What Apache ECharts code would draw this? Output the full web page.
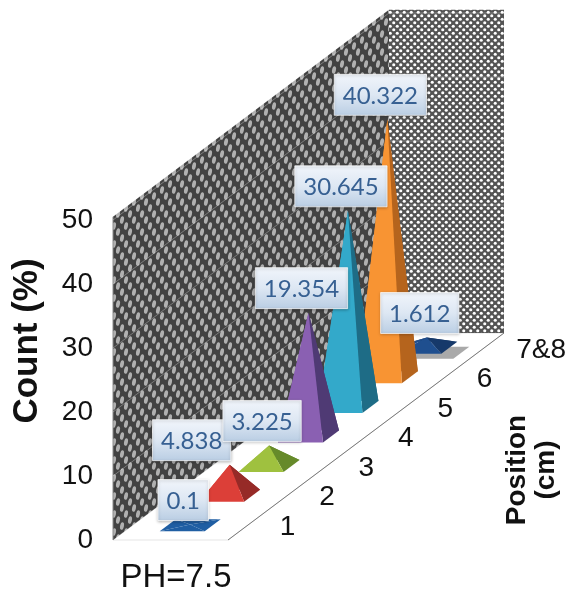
<!DOCTYPE html>
<html>
<head>
<meta charset="utf-8">
<style>
  html, body { margin: 0; padding: 0; background: #fff; }
  #main { width: 572px; height: 598px; }
</style>
<script src="https://cdn.jsdelivr.net/npm/echarts@6/dist/echarts.min.js"></script>
</head>
<body>
<div id="main"></div>
<script>
// chart data
const categories = ['1', '2', '3', '4', '5', '6', '7&8'];
const values = [0.1, 4.838, 3.225, 19.354, 30.645, 40.322, 1.612];
const yTicks = [0, 10, 20, 30, 40, 50];

// [front, right] face colours per category
const faceColors = [
  ['#1f5ea3', '#1f5ea3'], ['#dc3f38', '#962a27'], ['#9fc13f', '#668a2a'], ['#8a60b2', '#4f3a74'],
  ['#33a9ca', '#1e6c86'], ['#f89433', '#b5641d'], ['#1f4f8f', '#16396a']
];

// oblique projection of the floor
const slope = 0.75;       // wall rises this much per px
const depthDx = 115;      // floor depth in px
const wallTop = 50.5;
const baseW = 45, baseDx = 16, baseDy = 12;
const labelFont = '24px Lato';
const tickFont = '28px "Liberation Sans"';

function makeTile(w, h, bg, draw) {
  const c = document.createElement('canvas');
  c.width = w; c.height = h;
  const ctx = c.getContext('2d');
  ctx.fillStyle = bg;
  ctx.fillRect(0, 0, w, h);
  ctx.filter = 'blur(0.6px)';
  for (let i = -1; i <= 1; i++) {
    for (let j = -1; j <= 1; j++) {
      ctx.save();
      ctx.translate(i * w, j * h);
      draw(ctx);
      ctx.restore();
    }
  }
  return c;
}

// left wall: slanted oval holes
const leftTile = makeTile(24, 18, '#424242', function (ctx) {
  ctx.fillStyle = '#b0b0b0';
  [[2, 4], [14, 4], [6, 10], [18, 10], [10, 16], [22, 16]].forEach(function (p) {
    ctx.beginPath();
    ctx.ellipse(p[0], p[1], 1.9, 3.9, 0.2, 0, Math.PI * 2);
    ctx.fill();
  });
});
// right wall: round holes
const rightTile = makeTile(7, 7, '#545454', function (ctx) {
  ctx.fillStyle = '#ffffff';
  [[1.75, 1.75], [5.25, 5.25]].forEach(function (p) {
    ctx.beginPath();
    ctx.arc(p[0], p[1], 1.55, 0, Math.PI * 2);
    ctx.fill();
  });
});

const measureCtx = document.createElement('canvas').getContext('2d');
measureCtx.font = labelFont;

function projector(params, api) {
  const left = params.coordSys.x;
  return function (k, v, extraX) {
    const p = api.coord([k, v]);
    return [p[0] + (extraX === undefined ? depthDx / 2 : extraX), p[1] - (p[0] - left) * slope];
  };
}

function polygon(points, fill, z2) {
  return { type: 'polygon', shape: { points: points }, style: { fill: fill }, z2: z2 };
}

function renderWalls(params, api) {
  const sys = params.coordSys;
  const x0 = sys.x, x1 = sys.x + sys.width;
  const rise = sys.width * slope;
  const y0 = api.coord([0, 0])[1];
  const yT = api.coord([0, wallTop])[1];
  const children = [
    { type: 'polygon', shape: { points: [[x0, y0], [x1, y0 - rise], [x1 + depthDx, y0 - rise], [x0 + depthDx, y0]] },
      style: { fill: '#fff', stroke: 'rgba(120,120,120,0.2)', lineWidth: 1 } },
    { type: 'polygon', shape: { points: [[x0, yT], [x1, yT - rise], [x1, y0 - rise], [x0, y0]] },
      style: { fill: { image: leftTile, repeat: 'repeat' } } },
    { type: 'polygon', shape: { points: [[x1, yT - rise], [x1 + depthDx, yT - rise], [x1 + depthDx, y0 - rise], [x1, y0 - rise]] },
      style: { fill: { image: rightTile, repeat: 'repeat' } } },
    { type: 'line', shape: { x1: x0, y1: y0, x2: x0, y2: yT }, style: { stroke: '#8a8a8a', lineWidth: 1 } },
    { type: 'line', shape: { x1: x0 + depthDx, y1: y0, x2: x1 + depthDx, y2: y0 - rise }, style: { stroke: '#777', lineWidth: 1 } }
  ];
  yTicks.slice(1).forEach(function (t) {
    const y = api.coord([0, t])[1];
    children.push({ type: 'polyline', shape: { points: [[x0, y], [x1, y - rise], [x1 + depthDx, y - rise]] },
      style: { fill: null, stroke: 'rgba(255,255,255,0.3)', lineWidth: 1 } });
  });
  return { type: 'group', children: children };
}

function renderPyramid(params, api) {
  const k = api.value(0), v = api.value(1);
  const project = projector(params, api);
  const c = project(k, 0), apex = project(k, v);
  const hw = baseW / 2, dx = baseDx / 2, dy = baseDy / 2;
  const fl = [c[0] - hw - dx, c[1] + dy];
  const fr = [c[0] + hw - dx, c[1] + dy];
  const br = [c[0] + hw + dx, c[1] - dy];
  const bl = [c[0] - hw + dx, c[1] - dy];
  const col = faceColors[k];
  const z = 20 - k * 2;
  const parts = [];
  // only the last low block throws a visible shadow on the floor
  if (k === categories.length - 1) {
    parts.push(polygon([fl, fr, br, bl].map(function (p) { return [p[0] + 12, p[1] + 5]; }), '#a9a9a9', z));
  }
  parts.push(polygon([bl, br, apex], k === 0 ? col[0] : col[1], z));
  parts.push(polygon([fl, bl, apex], col[0], z));
  parts.push(polygon([fr, br, apex], col[1], z));
  parts.push(polygon([fl, fr, apex], col[0], z));
  return { type: 'group', children: parts };
}

function renderLabel(params, api) {
  const k = api.value(0), v = api.value(1);
  const project = projector(params, api);
  const apex = project(k, v);
  const text = String(values[k]);
  const w = measureCtx.measureText(text).width + 17;
  const h = 41;
  // the 4.838 label was dragged to the left in the original
  const cx = apex[0] - 7 - (k === 1 ? 31 : 0);
  const bottom = apex[1] - 4;
  return {
    type: 'group',
    children: [
      { type: 'rect', shape: { x: cx - w / 2, y: bottom - h, width: w, height: h },
        style: {
          fill: new echarts.graphic.LinearGradient(0, 0, 0, 1, [
            { offset: 0, color: '#f1f5fb' }, { offset: 0.5, color: '#dde7f3' }, { offset: 1, color: '#b9cde3' }
          ]),
          stroke: 'rgba(255,255,255,0.7)', lineWidth: 1,
          shadowBlur: 3, shadowOffsetY: 1, shadowColor: 'rgba(0,0,0,0.3)'
        }, z2: 100 + k * 2 },
      { type: 'text', x: cx, y: bottom - h / 2 + 1, z2: 101 + k * 2,
        style: { text: text, font: labelFont, fill: '#376092', align: 'center', verticalAlign: 'middle' } }
    ]
  };
}

function renderCategory(params, api) {
  const k = api.value(0);
  const p = projector(params, api)(k, 0, depthDx);
  return { type: 'text', x: p[0] + 32, y: p[1] + 2,
    style: { text: categories[k], font: tickFont, fill: '#111', align: 'left', verticalAlign: 'middle' } };
}

const seriesData = categories.map(function (c, i) { return [i, values[i]]; });

const chart = echarts.init(document.getElementById('main'));
chart.setOption({
  animation: false,
  backgroundColor: '#fff',
  grid: { left: 113, top: 220, width: 276, height: 320 },
  xAxis: {
    type: 'category',
    data: categories,
    axisLine: { show: false },
    axisTick: { show: false },
    axisLabel: { show: false }
  },
  yAxis: {
    type: 'value',
    min: 0,
    max: 50,
    interval: 10,
    axisLine: { show: false },
    axisTick: { show: false },
    splitLine: { show: false },
    axisLabel: { margin: 20, color: '#111', fontSize: 28, fontFamily: 'Liberation Sans' }
  },
  series: [
    { type: 'custom', z: 1, data: [[0, 0]], renderItem: renderWalls, silent: true },
    { type: 'custom', z: 2, data: seriesData, renderItem: renderPyramid, silent: true },
    { type: 'custom', z: 3, data: seriesData, renderItem: renderLabel, silent: true },
    { type: 'custom', z: 3, data: seriesData, renderItem: renderCategory, silent: true }
  ],
  graphic: [
    { type: 'text', x: 27, y: 341, rotation: Math.PI / 2,
      style: { text: 'Count (%)', font: 'bold 35px "Liberation Sans"', fill: '#111', align: 'center', verticalAlign: 'middle' } },
    { type: 'text', x: 532, y: 470, rotation: Math.PI / 2,
      style: { text: 'Position\n(cm)', font: 'bold 28px "Liberation Sans"', lineHeight: 29, fill: '#111', align: 'center', verticalAlign: 'middle' } },
    { type: 'text', x: 176, y: 578,
      style: { text: 'PH=7.5', font: '33px "Liberation Sans"', fill: '#111', align: 'center', verticalAlign: 'middle' } }
  ]
});
</script>
</body>
</html>
